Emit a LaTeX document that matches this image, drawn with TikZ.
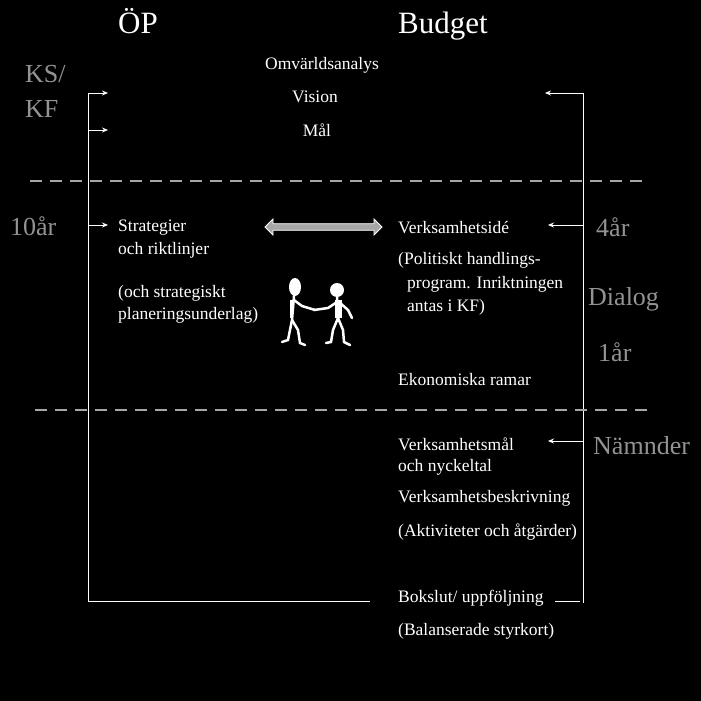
\documentclass[tikz,border=0pt]{standalone}
\usepackage{fontspec}
\setmainfont{Liberation Serif}
\usetikzlibrary{arrows.meta,shapes.arrows}
\begin{document}
\begin{tikzpicture}[x=1pt,y=-1pt,
  txt/.style={text=white,font=\fontsize{17.5}{20}\selectfont,anchor=west,inner sep=0},
  big/.style={text=white,font=\fontsize{31}{36}\selectfont,anchor=base west,inner sep=0},
  gr/.style={text=gray!85,font=\fontsize{26}{30}\selectfont,anchor=base west,inner sep=0},
  ln/.style={white,line width=0.8pt},
  ar/.style={white,line width=0.8pt,-{Stealth[length=6pt,width=5pt]}},
  dsh/.style={gray!70,line width=2.5pt,dash pattern=on 12pt off 8pt}]
\fill[black] (0,0) rectangle (701,701);
\useasboundingbox (0,0) rectangle (701,701);
\node[big] (op) at (118,34) {ÖP};
\node[big] (bud) at (398,34) {Budget};
\node[gr] (ks) at (25,82) {KS/};
\node[gr] (kf) at (25,117) {KF};
\node[gr] (t10) at (10,235) {10år};
\node[gr] (t4) at (596,236) {4år};
\node[gr] (dia) at (588,305) {Dialog};
\node[gr] (t1) at (598,361) {1år};
\node[gr] (nam) at (593,454) {Nämnder};
\node[txt,anchor=center] (omv) at (322,65) {Omvärldsanalys};
\node[txt,anchor=center] (vis) at (315,97) {Vision};
\node[txt,anchor=center] (mal) at (317,130) {Mål};
\node[txt] (str) at (118,228) {Strategier};
\node[txt] (och) at (118,250) {och riktlinjer};
\node[txt] (och2) at (118,293) {(och strategiskt};
\node[txt] (plan) at (118,315) {planeringsunderlag)};
\node[txt] (vid) at (398,228) {Verksamhetsidé};
\node[txt] (pol) at (398,260) {(Politiskt handlings-};
\node[txt] (prog) at (407,284) {program. Inriktningen};
\node[txt] (ant) at (407,307) {antas i KF)};
\node[txt] (eko) at (398,380) {Ekonomiska ramar};
\node[txt] (vm) at (398,444) {Verksamhetsmål};
\node[txt] (nyc) at (398,467) {och nyckeltal};
\node[txt] (vb) at (398,498) {Verksamhetsbeskrivning};
\node[txt] (akt) at (398,532) {(Aktiviteter och åtgärder)};
\node[txt] (bok) at (398,598) {Bokslut/ uppföljning};
\node[txt] (bal) at (398,631) {(Balanserade styrkort)};
\coordinate (L1) at (88,93); \coordinate (L2) at (88,601);
\coordinate (B1) at (370,601);
\coordinate (R1) at (583,93); \coordinate (R2) at (583,603);
\draw[ln] (L1) -- (L2) -- (B1);
\draw[ln] (R1) -- (R2);
\draw[ln] (555,601) -- (580,601);
\draw[ar] (L1) -- (108,93);
\draw[ar] (88,130) -- (108,130);
\draw[ar] (88,225) -- (108,225);
\draw[ar] (R1) -- (545,93);
\draw[ar] (583,225) -- (548,225);
\draw[ar] (583,441) -- (548,441);
\draw[dsh] (30,181) -- (645,181);
\draw[dsh] (35,410) -- (650,410);
\node[double arrow,draw=white,fill=gray!70,line width=0.8pt,minimum height=117pt,minimum width=16pt,double arrow head extend=2pt,inner sep=1pt] (da) at (323.5,227) {};
% figures
\begin{scope}[white,line width=2.5pt,line cap=round]
\fill (295,287) ellipse (6pt and 9pt);
\draw (294,296) -- (292,320) -- (288,340) -- (282,342);
\draw (292,320) -- (298,330) -- (300,343) -- (305,345);
\draw (294,300) -- (302,306) -- (315,310);
\fill (293,300) rectangle (290,318);
\fill (337,290) ellipse (7pt and 7pt);
\draw (337,297) -- (338,318) -- (333,330) -- (331,342) -- (326,343);
\draw (338,318) -- (343,330) -- (344,342) -- (350,345);
\draw (337,302) -- (328,308) -- (314,310);
\draw (339,302) -- (348,310) -- (352,318);
\fill (335,300) rectangle (342,318);
\end{scope}
\end{tikzpicture}
\end{document}
